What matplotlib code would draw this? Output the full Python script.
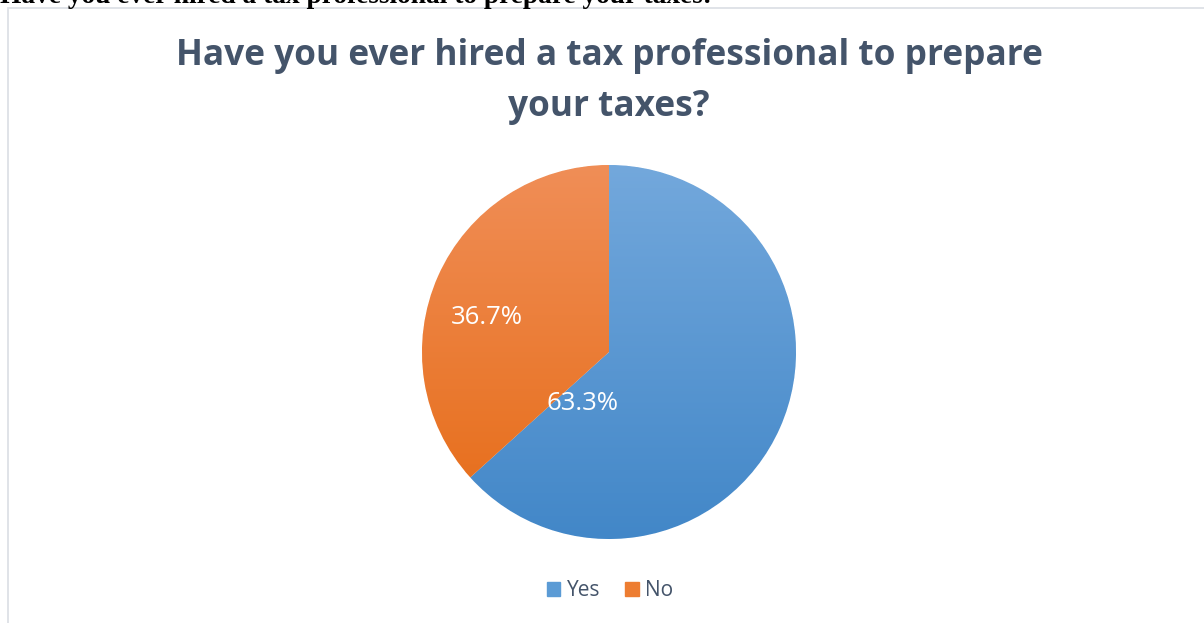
import numpy as np
import matplotlib.pyplot as plt
from matplotlib.colors import LinearSegmentedColormap
from matplotlib.patches import Rectangle

labels = ['Yes', 'No']
shares = [63.3, 36.7]
base_colors = ['#5b9bd5', '#ed7d31']
gradients = [('#73a8dc', '#4287c8'), ('#f08e57', '#e66b15')]

W, H = 1204, 623
fig = plt.figure(figsize=(W / 100, H / 100), dpi=100)
ax = fig.add_axes([0, 0, 1, 1])

# heading of the document sitting above the chart frame (cut off at the top)
fig.text(0.0, (H - 3) / H, 'Have you ever hired a tax professional to prepare your taxes:',
         family='Liberation Serif', weight='bold', fontsize=19.7, color='black',
         ha='left', va='baseline')

cx, cy, r = 609, H - 352, 187
wedges, _ = ax.pie(shares, colors=base_colors, startangle=90, counterclock=False,
                   center=(cx, cy), radius=r, frame=True,
                   wedgeprops=dict(linewidth=0.6, edgecolor='white'))
ax.set_xlim(0, W)
ax.set_ylim(0, H)
ax.set_aspect('equal')
ax.axis('off')

# chart area border
ax.add_patch(Rectangle((7.5, -10), W + 20, H - 7.5 + 10, fill=False,
                       edgecolor='#dde1e6', linewidth=1.3))

# vertical gradient fill for each slice
for w, (top, bottom) in zip(wedges, gradients):
    cmap = LinearSegmentedColormap.from_list('g', [bottom, top])
    grad = np.linspace(0, 1, 256).reshape(-1, 1)
    im = ax.imshow(grad, cmap=cmap, origin='lower', aspect='auto',
                   extent=(cx - r, cx + r, cy - r, cy + r), zorder=w.get_zorder() + 0.1)
    im.set_clip_path(w)

label_font = dict(family='Open Sans', fontsize=18.5, color='white', ha='center', va='center', zorder=5)
ax.text(cx - 122, cy + 34, f'{shares[1]:.1f}%', **label_font)
ax.text(cx - 27, cy - 51, f'{shares[0]:.1f}%', **label_font)

title_font = dict(family='Open Sans', weight='bold', fontsize=25.4, color='#44546a',
                  ha='center', va='center')
fig.text(609 / W, 1 - 56 / H, 'Have you ever hired a tax professional to prepare', **title_font)
fig.text(609 / W, 1 - 107 / H, 'your taxes?', **title_font)

handles = [Rectangle((0, 0), 1, 1, color=c) for c in base_colors]
leg = fig.legend(handles, labels, loc='center', bbox_to_anchor=(610 / W, 1 - 591 / H),
                 ncol=2, frameon=False, handlelength=0.65, handleheight=0.65,
                 handletextpad=0.3, columnspacing=1.2,
                 prop=dict(family='Open Sans', size=15))
for t in leg.get_texts():
    t.set_color('#44546a')

fig.savefig('out.png', dpi=100)
